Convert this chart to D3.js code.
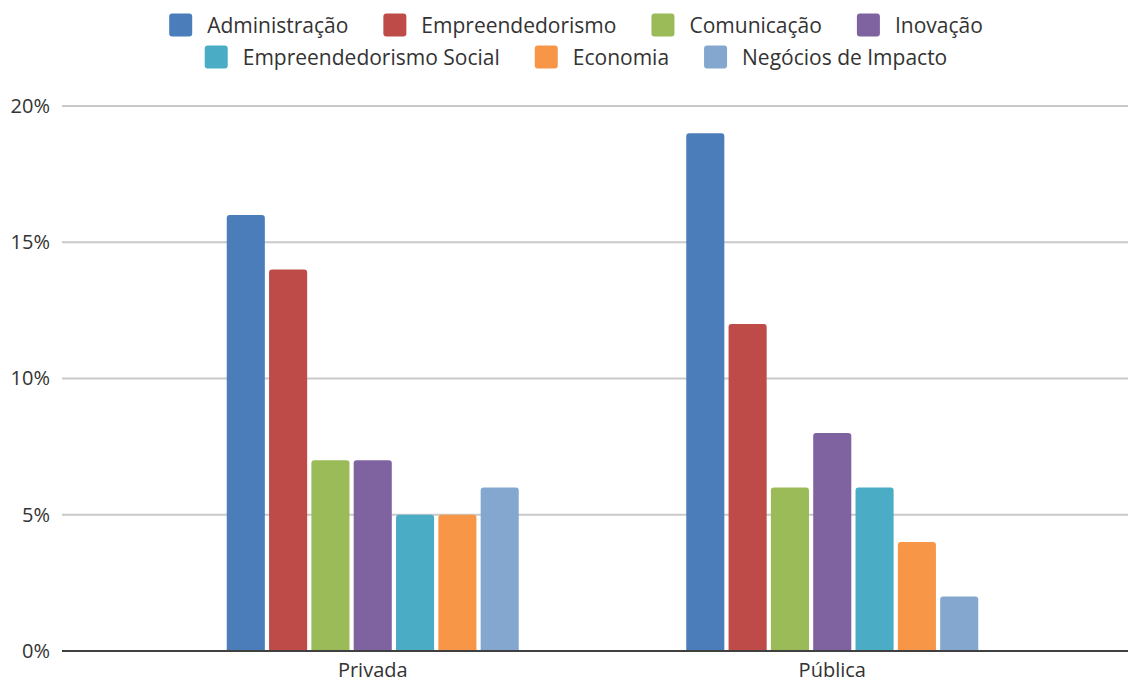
<!DOCTYPE html>
<html>
<head>
<meta charset="utf-8">
<script src="https://cdn.jsdelivr.net/npm/d3@7"></script>
<style>
  html, body { margin: 0; padding: 0; background: #fff; }
  svg { display: block; font-family: "Open Sans", "Noto Sans", sans-serif; }
</style>
</head>
<body>
<svg id="chart" width="1129" height="683"></svg>
<script>
// Sectors of the organisations
const categories = ["Privada", "Pública"];

// Areas of study
const series = [
  "Administração", "Empreendedorismo", "Comunicação", "Inovação",
  "Empreendedorismo Social", "Economia", "Negócios de Impacto"
];

// Share (%) per area, one array per sector
const privadaValues = [16, 14, 7, 7, 5, 5, 6];
const publicaValues = [19, 12, 6, 8, 6, 4, 2];

const colors = ["#4a7dba", "#be4b48", "#9bbb59", "#7f63a1", "#4bacc6", "#f79646", "#84a7cf"];

const yTicks = [0, 5, 10, 15, 20];

const legendRows = [
  ["Administração", "Empreendedorismo", "Comunicação", "Inovação"],
  ["Empreendedorismo Social", "Economia", "Negócios de Impacto"]
];

const valuesByCategory = { "Privada": privadaValues, "Pública": publicaValues };

const svg = d3.select("#chart");

const plot = { left: 62, right: 1128, top: 106, bottom: 651 };

const y = d3.scaleLinear().domain([0, 20]).range([plot.bottom, plot.top]);
const x0 = d3.scaleBand().domain(categories).range([143, 1062]).paddingInner(0).paddingOuter(0);
const groupWidth = 292;
const x1 = d3.scaleBand().domain(series).range([0, groupWidth]).paddingInner(0.1).paddingOuter(0);
const color = d3.scaleOrdinal().domain(series).range(colors);

// Gridlines
svg.append("g")
  .selectAll("line")
  .data(yTicks.filter(d => d !== 0))
  .join("line")
  .attr("x1", plot.left).attr("x2", plot.right)
  .attr("y1", d => y(d)).attr("y2", d => y(d))
  .attr("stroke", "#c9c9c9").attr("stroke-width", 2);

// Y axis tick labels
const yAxis = d3.axisLeft(y).tickValues(yTicks).tickSize(0).tickPadding(12).tickFormat(d => d + "%");
const yG = svg.append("g").attr("transform", `translate(${plot.left},0)`).call(yAxis);
yG.select(".domain").remove();
yG.selectAll("text").attr("font-size", 20).attr("fill", "#333").attr("font-family", "Open Sans, sans-serif");

// Rounded-top bar path
function barPath(x, yTop, w, h, r) {
  r = Math.min(r, h, w / 2);
  return `M${x},${yTop + h}V${yTop + r}Q${x},${yTop} ${x + r},${yTop}H${x + w - r}Q${x + w},${yTop} ${x + w},${yTop + r}V${yTop + h}Z`;
}

// Bars
const groups = svg.append("g")
  .selectAll("g")
  .data(categories)
  .join("g")
  .attr("transform", c => `translate(${x0(c) + (x0.bandwidth() - groupWidth) / 2},0)`);

groups.selectAll("path")
  .data(c => series.map((s, i) => ({ s, v: valuesByCategory[c][i] })))
  .join("path")
  .attr("d", d => barPath(x1(d.s), y(d.v), x1.bandwidth(), y(0) - y(d.v), 3))
  .attr("fill", d => color(d.s));

// X axis baseline and labels
const xAxis = d3.axisBottom(x0).tickSize(0).tickPadding(12);
const xG = svg.append("g").attr("transform", `translate(0,${plot.bottom})`).call(xAxis);
xG.select(".domain").remove();
xG.selectAll("text").attr("font-size", 20).attr("fill", "#333").attr("font-family", "Open Sans, sans-serif");
svg.append("line")
  .attr("x1", plot.left).attr("x2", plot.right)
  .attr("y1", plot.bottom).attr("y2", plot.bottom)
  .attr("stroke", "#404040").attr("stroke-width", 2);

// Legend, two centred rows
const legend = svg.append("g");
const legendCenter = 576;
const rowY = [25, 57];
const sw = 23, swGap = 15, itemGap = 35;

legendRows.forEach((row, ri) => {
  const rowG = legend.append("g");
  let cursor = 0;
  row.forEach(name => {
    const item = rowG.append("g").attr("transform", `translate(${cursor},0)`);
    item.append("rect")
      .attr("x", 0).attr("y", rowY[ri] - sw / 2)
      .attr("width", sw).attr("height", sw)
      .attr("rx", 3)
      .attr("fill", color(name));
    const t = item.append("text")
      .attr("x", sw + swGap).attr("y", rowY[ri] + 1)
      .attr("dy", "0.35em")
      .attr("font-size", 21).attr("fill", "#333")
      .text(name);
    cursor += sw + swGap + t.node().getComputedTextLength() + itemGap;
  });
  const total = cursor - itemGap;
  rowG.attr("transform", `translate(${legendCenter - total / 2},0)`);
});
</script>
</body>
</html>
